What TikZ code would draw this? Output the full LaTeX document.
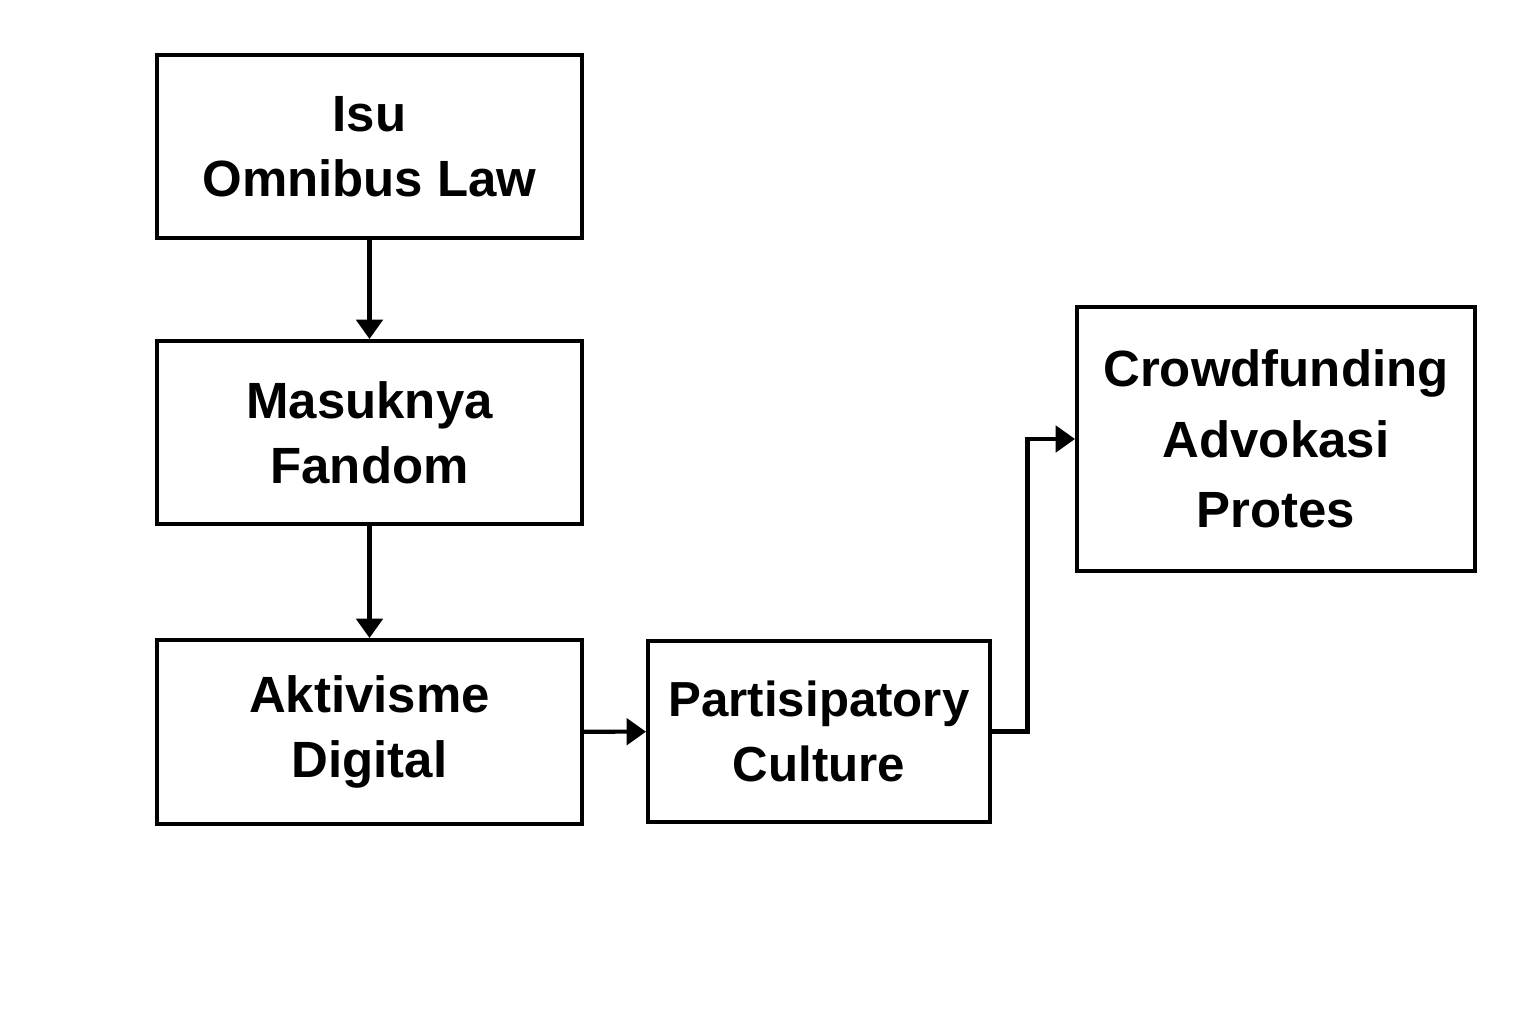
\documentclass[tikz,border=0pt]{standalone}
\usepackage{fontspec}
\setmainfont{Liberation Sans}
\usetikzlibrary{arrows.meta}
\begin{document}
\begin{tikzpicture}[x=0.02cm,y=-0.02cm,
    box/.style={draw,line width=2.3pt,align=center,inner sep=0pt,
      font=\bfseries\fontsize{29}{37}\selectfont},
    arr/.style={line width=2.3pt,-{Triangle[length=11pt,width=15pt]}}]
          \useasboundingbox (0,0) rectangle (1536,1024);
          \node[box,minimum width=425*0.02cm,minimum height=183*0.02cm] (A) at (369.5,146.5) {Isu\\Omnibus Law};
          \node[box,minimum width=425*0.02cm,minimum height=183*0.02cm] (B) at (369.5,432.5) {Masuknya\\Fandom};
          \node[box,minimum width=425*0.02cm,minimum height=184*0.02cm] (C) at (369.5,732) {Aktivisme\\Digital};
          \node[box,minimum width=342*0.02cm,minimum height=181*0.02cm,font=\bfseries\fontsize{28}{37}\selectfont] (D) at (819,731.5) {Partisipatory\\Culture};
          \node[box,minimum width=398*0.02cm,minimum height=264*0.02cm,font=\bfseries\fontsize{29}{40}\selectfont] (E) at (1276,439) {Crowdfunding\\Advokasi\\Protes};
          \draw[arr] (A) -- (B);
          \draw[arr] (B) -- (C);
          \draw[arr] (C) -- (D);
          \draw[arr] (D.east) -- (1027.5,731.5) |- (E.west);
        \end{tikzpicture}
\end{document}
